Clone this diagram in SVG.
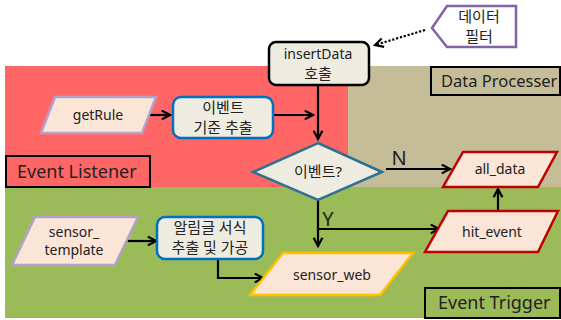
<svg xmlns="http://www.w3.org/2000/svg" width="561" height="320" viewBox="0 0 561 320">
<defs>
<style>
text{font-family:"Noto Sans","Noto Sans CJK KR",sans-serif;fill:#222;text-anchor:middle}
.t{font-size:14px}
.k{font-size:15px}
.lbl{font-size:18px;text-anchor:start}
.box{fill:#EEECE1;stroke-width:2.5}
.para{fill:#FBE5D6;stroke-width:2.5}
.conn{fill:none;stroke:#000;stroke-width:2.2}
</style>
<marker id="ah" viewBox="0 0 10 10" refX="8.5" refY="5" markerWidth="5" markerHeight="5" orient="auto" markerUnits="strokeWidth">
<path d="M1,1 L8.5,5 L1,9" fill="none" stroke="#000" stroke-width="2"/>
</marker>
</defs>
<rect x="0" y="0" width="561" height="320" fill="#fff"/>
<g id="regions">
<rect x="5" y="66" width="343" height="121" fill="#FF6666"/>
<rect x="348" y="66" width="213" height="121" fill="#C4BD97"/>
<rect x="5" y="187" width="556" height="131" fill="#9BBB59"/>
</g>
<g id="event-listener-label">
<rect x="6" y="156" width="144" height="31" fill="#FF6666" stroke="#000" stroke-width="2"/>
<text class="lbl" x="17" y="178">Event Listener</text>
</g>
<g id="data-processer-label">
<rect x="431" y="67" width="129" height="28" fill="#C4BD97" stroke="#000" stroke-width="2"/>
<text class="lbl" x="441" y="87" style="font-size:16.5px">Data Processer</text>
</g>
<g id="event-trigger-label">
<rect x="425" y="288" width="135" height="30" fill="#9BBB59" stroke="#000" stroke-width="2"/>
<text class="lbl" x="438" y="309">Event Trigger</text>
</g>
<g id="connectors">
<path class="conn" d="M425,30 L375,45" stroke-dasharray="2.2 1.8" marker-end="url(#ah)"/>
<path class="conn" d="M145,115 L170,115" marker-end="url(#ah)"/>
<path class="conn" d="M273,115 L313,115" marker-end="url(#ah)"/>
<path class="conn" d="M318,85 L318,139" marker-end="url(#ah)"/>
<path class="conn" d="M386,169 L450,169" marker-end="url(#ah)"/>
<path class="conn" d="M318,200 L318,246" marker-end="url(#ah)"/>
<path class="conn" d="M318,229 L439,229" marker-end="url(#ah)"/>
<path class="conn" d="M498,211 L498,189" marker-end="url(#ah)"/>
<path class="conn" d="M127,241 L156,241" marker-end="url(#ah)"/>
<path class="conn" d="M218,259 L218,278 L263,278" marker-end="url(#ah)"/>
<text x="399" y="165" style="font-size:20px">N</text>
<text x="328" y="226" style="font-size:20px">Y</text>
</g>
<g id="data-filter">
<path d="M432,28 L447,6 L516,6 L516,47 L447,47 Z" fill="#fff" stroke="#8064A2" stroke-width="2.5"/>
<text class="k" x="479" y="22">데이터</text>
<text class="k" x="479" y="42">필터</text>
</g>
<g id="insertData">
<rect class="box" x="269" y="42" width="100" height="43" rx="7" stroke="#000"/>
<text class="t" x="318" y="59">insertData</text>
<text class="k" x="318" y="79">호출</text>
</g>
<g id="getRule">
<path class="para" d="M55,97 L156,97 L142,133 L41,133 Z" stroke="#B3A2C7"/>
<text class="t" x="98" y="120">getRule</text>
</g>
<g id="event-criteria">
<rect class="box" x="173" y="97" width="100" height="41" rx="8" stroke="#0070C0"/>
<text class="k" x="223" y="113">이벤트</text>
<text class="k" x="223" y="133">기준 추출</text>
</g>
<g id="event-decision">
<path class="box" d="M318,143 L382,172 L318,200 L253,172 Z" stroke="#31708F"/>
<text class="k" x="318" y="177">이벤트?</text>
</g>
<g id="all_data">
<path class="para" d="M463,152 L557,152 L538,187 L443,187 Z" stroke="#C00000"/>
<text class="t" x="500" y="174">all_data</text>
</g>
<g id="hit_event">
<path class="para" d="M448,211 L558,211 L538,252 L425,252 Z" stroke="#C00000"/>
<text class="t" x="492" y="237">hit_event</text>
</g>
<g id="sensor_template">
<path class="para" d="M35,217 L138,217 L115,265 L12,265 Z" stroke="#B3A2C7"/>
<text class="t" x="74" y="237">sensor_</text>
<text class="t" x="74" y="255">template</text>
</g>
<g id="notice-format">
<rect class="box" x="157" y="217" width="106" height="42" rx="8" stroke="#0070C0"/>
<text class="k" x="210" y="233">알림글 서식</text>
<text class="k" x="210" y="253">추출 및 가공</text>
</g>
<g id="sensor_web">
<path class="para" d="M283,253 L413,253 L380,295 L250,295 Z" stroke="#FFC000"/>
<text class="t" x="332" y="280">sensor_web</text>
</g>
</svg>
